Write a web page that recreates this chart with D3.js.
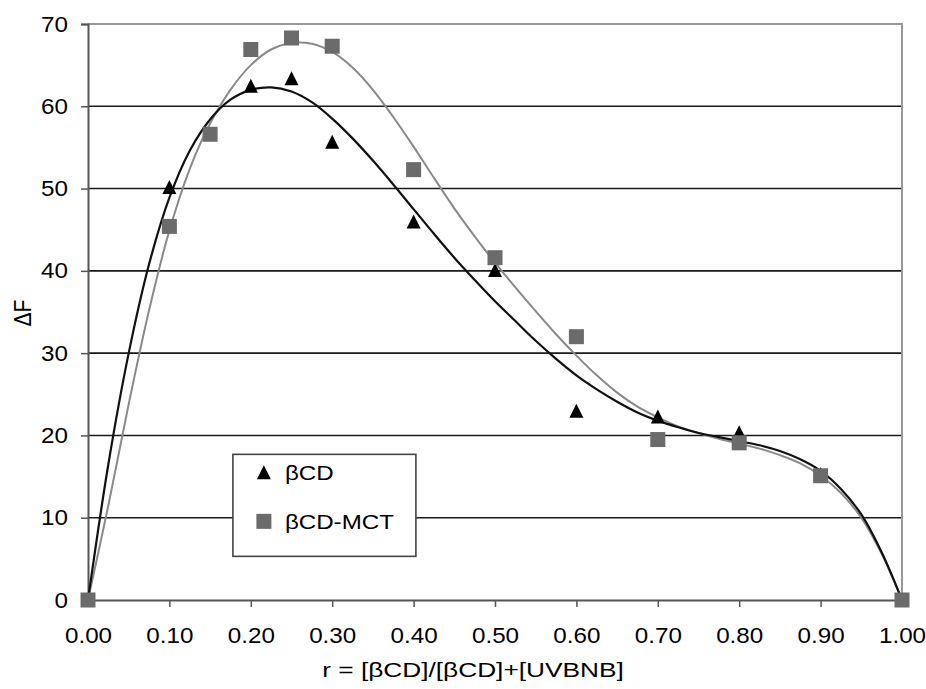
<!DOCTYPE html>
<html>
<head>
<meta charset="utf-8">
<script src="https://cdn.jsdelivr.net/npm/d3@7"></script>
<style>
  body { margin: 0; background: #fff; }
  text { font-family: "Liberation Sans", Arial, sans-serif; fill: #000; }
</style>
</head>
<body>
<div id="chart"></div>
<script>
// tick values
const xTicks = [0, 0.1, 0.2, 0.3, 0.4, 0.5, 0.6, 0.7, 0.8, 0.9, 1.0];
const yTicks = [0, 10, 20, 30, 40, 50, 60, 70];

// measured points
const bcdX = [0, 0.1, 0.2, 0.25, 0.3, 0.4, 0.5, 0.6, 0.7, 0.8, 0.9, 1.0];
const bcdY = [0, 50.2, 62.5, 63.4, 55.7, 46.0, 40.1, 23.0, 22.3, 20.4, 15.3, 0];
const mctX = [0, 0.1, 0.15, 0.2, 0.25, 0.3, 0.4, 0.5, 0.6, 0.7, 0.8, 0.9, 1.0];
const mctY = [0, 45.4, 56.6, 66.9, 68.3, 67.3, 52.3, 41.6, 32.0, 19.5, 19.1, 15.1, 0];

// trend lines, every 0.025
const fitX = [0, 0.025, 0.05, 0.075, 0.1, 0.125, 0.15, 0.175, 0.2, 0.225,
              0.25, 0.275, 0.3, 0.325, 0.35, 0.375, 0.4, 0.425, 0.45, 0.475,
              0.5, 0.525, 0.55, 0.575, 0.6, 0.625, 0.65, 0.675, 0.7, 0.725,
              0.75, 0.775, 0.8, 0.825, 0.85, 0.875, 0.9, 0.925, 0.95, 0.975, 1.0];
const fitBcd = [0, 16.5, 30.0, 40.8, 48.9, 54.6, 58.4, 60.8, 62.0, 62.3,
                61.8, 60.5, 58.5, 56.1, 53.4, 50.5, 47.5, 44.5, 41.6, 38.9,
                36.3, 33.9, 31.5, 29.3, 27.3, 25.6, 24.1, 22.8, 21.8, 21.0,
                20.3, 19.8, 19.3, 18.8, 18.1, 17.1, 15.7, 13.5, 10.4, 5.8, 0];
const fitMct = [0, 11.5, 23.8, 35.2, 44.9, 52.4, 57.9, 62.0, 65.0, 66.9,
                67.7, 67.6, 66.6, 64.7, 62.0, 58.7, 55.1, 51.3, 47.6, 44.2,
                41.0, 38.0, 35.1, 32.3, 29.7, 27.3, 25.2, 23.5, 22.2, 21.1,
                20.3, 19.6, 19.0, 18.4, 17.6, 16.6, 15.1, 13.0, 10.0, 5.6, 0];

const W = 926, H = 689;
const margin = { top: 24, right: 24, bottom: 89, left: 88 };
const sx = 1.1; // glyphs in the picture are a bit wide

const svg = d3.select('#chart').append('svg')
  .attr('width', W)
  .attr('height', H);

const width = W - margin.left - margin.right;
const height = H - margin.top - margin.bottom;

const g = svg.append('g')
  .attr('transform', `translate(${margin.left},${margin.top})`);

const x = d3.scaleLinear().domain([0, 1]).range([0, width]);
const y = d3.scaleLinear().domain([0, 70]).range([height, 0]);

// gridlines
g.append('g')
  .selectAll('line')
  .data(yTicks.filter(d => d > 0 && d < 70))
  .enter().append('line')
    .attr('x1', 0).attr('x2', width)
    .attr('y1', d => y(d)).attr('y2', d => y(d))
    .attr('stroke', '#1a1a1a')
    .attr('stroke-width', 1.6);

// plot frame (top and right)
g.append('path')
  .attr('d', `M0,${y(70)}H${width}V${height}`)
  .attr('fill', 'none')
  .attr('stroke', '#999')
  .attr('stroke-width', 2);

// axes
const xAxis = g.append('g')
  .attr('transform', `translate(0,${height})`)
  .call(d3.axisBottom(x).tickValues(xTicks).tickFormat(d3.format('.2f')).tickSize(7).tickPadding(20));

const yAxis = g.append('g')
  .call(d3.axisLeft(y).tickValues(yTicks).tickSize(7).tickPadding(13));

[xAxis, yAxis].forEach(a => {
  a.select('.domain').attr('stroke', '#555').attr('stroke-width', 2);
  a.selectAll('.tick line').attr('stroke', '#555').attr('stroke-width', 1.5);
  a.selectAll('.tick text')
    .style('font-size', '22px')
    .attr('fill', '#000')
    .attr('transform', `scale(${sx},1)`);
});
yAxis.selectAll('.tick text').attr('x', -20 / sx);

// trend lines
const line = d3.line()
  .x(d => x(d[0]))
  .y(d => y(d[1]))
  .curve(d3.curveCatmullRom.alpha(0.5));

g.append('path')
  .datum(d3.zip(fitX, fitMct))
  .attr('d', line)
  .attr('fill', 'none')
  .attr('stroke', '#8a8a8a')
  .attr('stroke-width', 2);

g.append('path')
  .datum(d3.zip(fitX, fitBcd))
  .attr('d', line)
  .attr('fill', 'none')
  .attr('stroke', '#111')
  .attr('stroke-width', 2.2);

// markers
const tri = 'M0,-7L7,7L-7,7Z';

g.selectAll('.bcd')
  .data(d3.zip(bcdX, bcdY))
  .enter().append('path')
    .attr('class', 'bcd')
    .attr('d', tri)
    .attr('transform', d => `translate(${x(d[0])},${y(d[1])})`)
    .attr('fill', '#000');

g.selectAll('.mct')
  .data(d3.zip(mctX, mctY))
  .enter().append('rect')
    .attr('class', 'mct')
    .attr('x', d => x(d[0]) - 7.5)
    .attr('y', d => y(d[1]) - 7.5)
    .attr('width', 15)
    .attr('height', 15)
    .attr('fill', '#6b6b6b');

// legend
const legend = g.append('g')
  .attr('transform', `translate(${x(0.178)},${y(17.7)})`);

legend.append('rect')
  .attr('width', 183)
  .attr('height', 102)
  .attr('fill', '#fff')
  .attr('stroke', '#444')
  .attr('stroke-width', 1.6);

const items = [
  { label: 'βCD', shape: 'tri' },
  { label: 'βCD-MCT', shape: 'sq' }
];

items.forEach((it, i) => {
  const row = legend.append('g').attr('transform', `translate(31,${18 + i * 49})`);
  if (it.shape === 'tri') {
    row.append('path').attr('d', tri).attr('fill', '#000');
  } else {
    row.append('rect').attr('x', -7.5).attr('y', -7.5).attr('width', 15).attr('height', 15).attr('fill', '#6b6b6b');
  }
  row.append('text')
    .attr('transform', `translate(21,0) scale(1.15,1)`)
    .attr('dy', '0.36em')
    .style('font-size', '21px')
    .text(it.label);
});

// axis titles
svg.append('text')
  .attr('transform', `translate(473,677) scale(1.25,1)`)
  .attr('text-anchor', 'middle')
  .style('font-size', '21px')
  .text('r = [βCD]/[βCD]+[UVBNB]');

svg.append('text')
  .attr('transform', `translate(31,313) scale(1.15,1) rotate(-90)`)
  .attr('text-anchor', 'middle')
  .style('font-size', '21px')
  .text('ΔF');
</script>
</body>
</html>
